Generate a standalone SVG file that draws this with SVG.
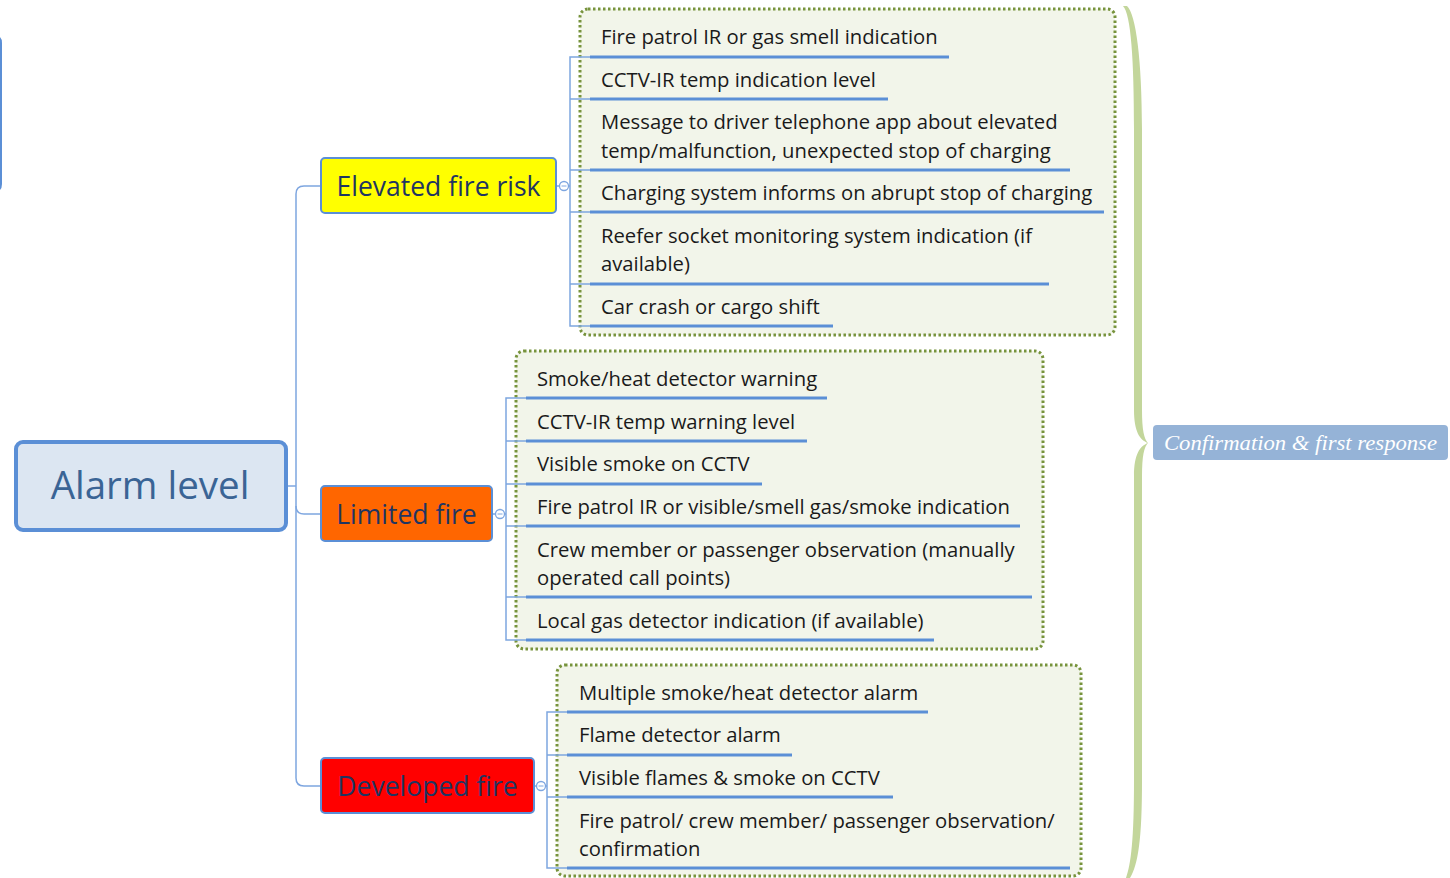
<svg xmlns="http://www.w3.org/2000/svg" width="1450" height="878" viewBox="0 0 1450 878">
<defs>
<style>
.conn{fill:none;stroke:#7ea6e0;stroke-width:1.5}
.ul{stroke:#5b8fd6;stroke-width:3;fill:none}
.grp{fill:#f2f5ea;stroke:#77933c;stroke-width:3;stroke-dasharray:2.5 2.5}
.item{font-family:"Open Sans","Liberation Sans",sans-serif;font-size:20.25px;fill:#1a1a1a}
.node{stroke:#5b8fd6;stroke-width:2}
.ntxt{font-family:"Open Sans","Liberation Sans",sans-serif;font-size:26.5px;fill:#1f3562;text-anchor:middle}
.col{fill:#fff;stroke:#7ea6e0;stroke-width:1.3}
</style>
</defs>
<rect width="1450" height="878" fill="#ffffff"/>

<!-- cut-off node at left edge -->
<g id="edge-node">
<path d="M-6,36 Q1,36 1,43 L1,184 Q1,191 -6,191" fill="none" stroke="#5b8fd6" stroke-width="2"/>
</g>

<!-- group boxes -->
<g id="group-elevated"><rect class="grp" x="580" y="9" width="535" height="326" rx="8"/></g>
<g id="group-limited"><rect class="grp" x="516" y="351" width="527" height="298" rx="8"/></g>
<g id="group-developed"><rect class="grp" x="557" y="665" width="524" height="211" rx="8"/></g>

<!-- connectors -->
<g id="connectors">
<path class="conn" d="M287,486 H296"/>
<path class="conn" d="M321,186 H304 Q296,186 296,194 V778 Q296,786 304,786 H321"/>
<path class="conn" d="M296,506 Q296,514 304,514 H321"/>
<path class="conn" d="M556,186 H560 M568.5,186 H570"/>
<path class="conn" d="M492,514 H496 M504.5,514 H506"/>
<path class="conn" d="M534,786 H537 M545.5,786 H547"/>
<path class="conn" d="M590,57 H570 V326 H590 M570,99 H590 M570,170 H590 M570,212 H590 M570,284 H590"/>
<path class="conn" d="M526,398 H506 V640 H526 M506,441 H526 M506,484 H526 M506,526 H526 M506,597 H526"/>
<path class="conn" d="M567,712 H547 V868 H567 M547,755 H567 M547,797 H567"/>
<circle class="col" cx="564" cy="186" r="4.5"/><path d="M561.5,186 H566.5" stroke="#7ea6e0" stroke-width="1"/>
<circle class="col" cx="500" cy="514" r="4.5"/><path d="M497.5,514 H502.5" stroke="#7ea6e0" stroke-width="1"/>
<circle class="col" cx="541" cy="786" r="4.5"/><path d="M538.5,786 H543.5" stroke="#7ea6e0" stroke-width="1"/>
</g>

<!-- root -->
<g id="alarm-level">
<rect x="16" y="442" width="270" height="88" rx="7" fill="#dce6f2" stroke="#5b8fd6" stroke-width="4"/>
<text x="150" y="499" font-family="'Open Sans','Liberation Sans',sans-serif" font-size="38.5" fill="#3a6495" text-anchor="middle">Alarm level</text>
</g>

<g id="elevated-fire-risk">
<rect class="node" x="321" y="158" width="235" height="55" rx="4" fill="#ffff00"/>
<text class="ntxt" x="438.5" y="196">Elevated fire risk</text>
</g>
<g id="limited-fire">
<rect class="node" x="321" y="486" width="171" height="55" rx="4" fill="#ff6600"/>
<text class="ntxt" x="406.5" y="524">Limited fire</text>
</g>
<g id="developed-fire">
<rect class="node" x="321" y="758" width="213" height="55" rx="4" fill="#ff0000"/>
<text class="ntxt" x="427.5" y="796">Developed fire</text>
</g>

<!-- elevated items -->
<g id="e1"><text class="item" x="601" y="44">Fire patrol IR or gas smell indication</text><path class="ul" d="M590,57 H949"/></g>
<g id="e2"><text class="item" x="601" y="86.5">CCTV-IR temp indication level</text><path class="ul" d="M590,99 H888"/></g>
<g id="e3"><text class="item" x="601" y="128.5">Message to driver telephone app about elevated</text><text class="item" x="601" y="157.5">temp/malfunction, unexpected stop of charging</text><path class="ul" d="M590,170 H1070"/></g>
<g id="e4"><text class="item" x="601" y="200">Charging system informs on abrupt stop of charging</text><path class="ul" d="M590,212 H1104"/></g>
<g id="e5"><text class="item" x="601" y="242.5">Reefer socket monitoring system indication (if</text><text class="item" x="601" y="271">available)</text><path class="ul" d="M590,284 H1049"/></g>
<g id="e6"><text class="item" x="601" y="313.5">Car crash or cargo shift</text><path class="ul" d="M590,326 H833"/></g>

<!-- limited items -->
<g id="l1"><text class="item" x="537" y="385.5">Smoke/heat detector warning</text><path class="ul" d="M526,398 H827"/></g>
<g id="l2"><text class="item" x="537" y="428.5">CCTV-IR temp warning level</text><path class="ul" d="M526,441 H807"/></g>
<g id="l3"><text class="item" x="537" y="470.5">Visible smoke on CCTV</text><path class="ul" d="M526,484 H762"/></g>
<g id="l4"><text class="item" x="537" y="513.5">Fire patrol IR or visible/smell gas/smoke indication</text><path class="ul" d="M526,526 H1020"/></g>
<g id="l5"><text class="item" x="537" y="556.5">Crew member or passenger observation (manually</text><text class="item" x="537" y="585">operated call points)</text><path class="ul" d="M526,597 H1032"/></g>
<g id="l6"><text class="item" x="537" y="627.5">Local gas detector indication (if available)</text><path class="ul" d="M526,640 H934"/></g>

<!-- developed items -->
<g id="d1"><text class="item" x="579" y="699.5">Multiple smoke/heat detector alarm</text><path class="ul" d="M567,712 H928"/></g>
<g id="d2"><text class="item" x="579" y="742">Flame detector alarm</text><path class="ul" d="M567,755 H792"/></g>
<g id="d3"><text class="item" x="579" y="784.5">Visible flames &amp; smoke on CCTV</text><path class="ul" d="M567,797 H893"/></g>
<g id="d4"><text class="item" x="579" y="827.5">Fire patrol/ crew member/ passenger observation/</text><text class="item" x="579" y="856">confirmation</text><path class="ul" d="M567,868 H1070"/></g>

<!-- brace -->
<g id="brace">
<path d="M1123,6 C1131,14 1134,60 1134,130 L1134,410 C1134,432 1140,440 1148,443 C1140,446 1134,454 1134,476 L1134,780 C1134,840 1131,864 1126,878 L1130,878 C1138,864 1142,840 1142,780 L1142,476 C1142,456 1144,447 1148,443 C1144,439 1142,430 1142,410 L1142,130 C1142,60 1136,14 1127,6 Z" fill="#c3d69b"/>
</g>

<g id="confirmation">
<rect x="1153" y="425" width="295" height="35" rx="4" fill="#95b3d7"/>
<text x="1300.5" y="450" font-family="'Liberation Serif',serif" font-style="italic" font-size="21" fill="#ffffff" text-anchor="middle" textLength="273" lengthAdjust="spacingAndGlyphs">Confirmation &amp; first response</text>
</g>
</svg>
